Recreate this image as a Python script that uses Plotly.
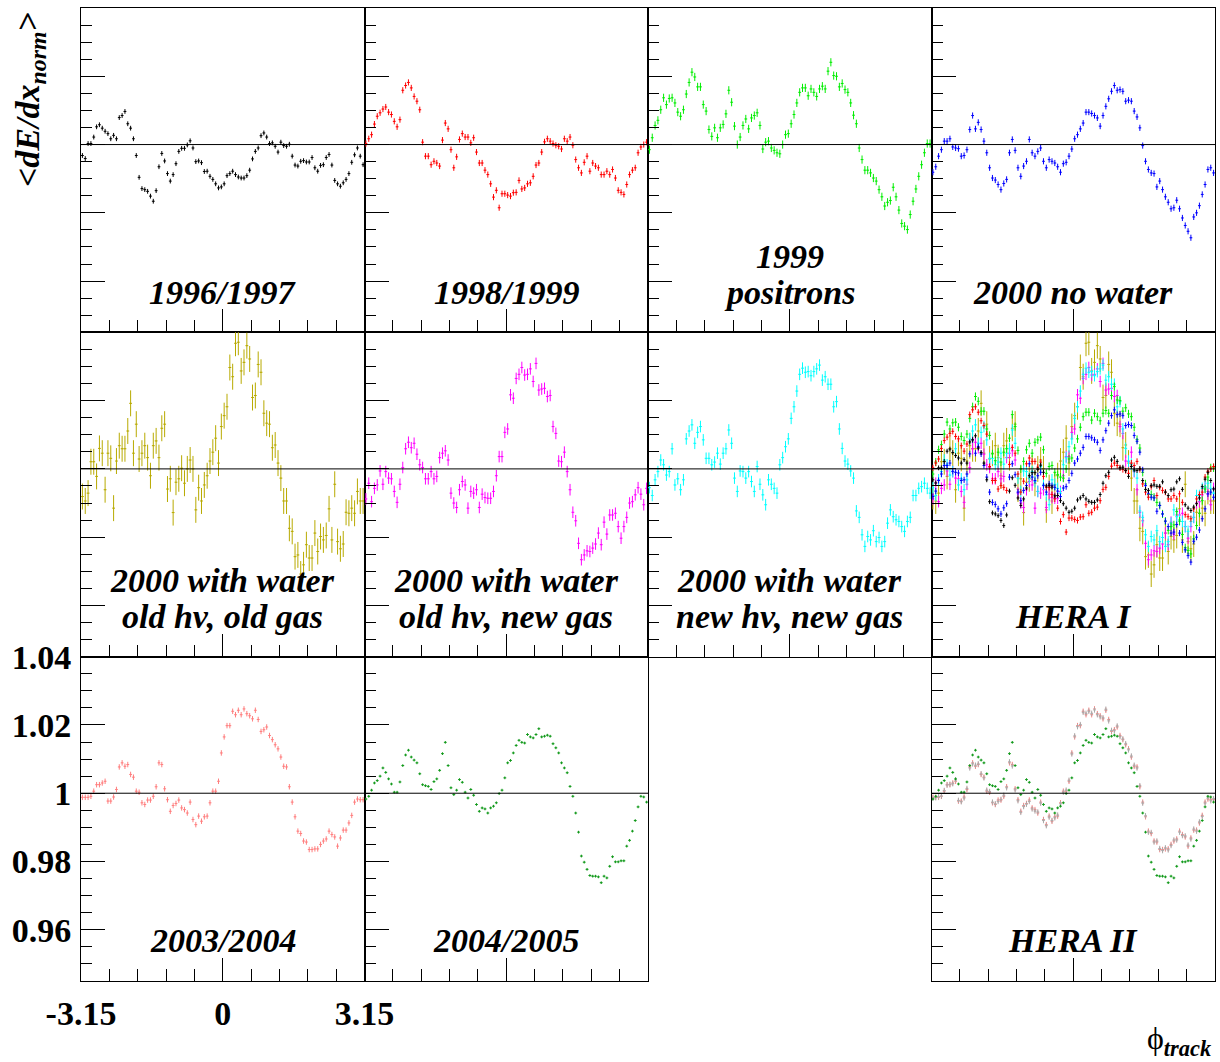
import plotly.graph_objects as go
from plotly.subplots import make_subplots

# ---------------- data (deviation from 1 in units of 1e-3, 100 phi bins) ----------------
N_BINS = 100
PHI_MIN, PHI_MAX = -3.15, 3.15
bin_w = (PHI_MAX - PHI_MIN) / N_BINS
phi = [PHI_MIN + bin_w * (i + 0.5) for i in range(N_BINS)]

dev_1996_1997 = [-3.2,-4.1,0.3,0.3,2.2,5.2,5.8,4.8,3.9,3.2,
 1.7,2.7,1.7,7.9,8.5,9.7,6.1,4.8,1.7,-3.2,
 -9.6,-12.9,-13.2,-13.7,-15.1,-16.6,-13.5,-6.5,-2.6,-4.8,
 -8.5,-10.7,-8.8,-5.6,-2.0,-1.1,-1.1,-0.1,1.1,-1.0,
 -5.0,-4.8,-5.3,-7.9,-7.8,-9.3,-10.2,-11.5,-12.7,-12.4,
 -11.5,-9.1,-8.5,-7.8,-8.8,-9.5,-9.8,-9.8,-9.1,-7.5,
 -4.2,-2.0,-1.0,2.6,3.4,2.2,0.3,0.5,-0.5,-2.2,
 0.7,-0.3,-0.5,0.1,-3.4,-6.0,-6.3,-4.9,-4.7,-5.1,
 -5.1,-3.8,-6.8,-7.8,-6.1,-5.9,-3.8,-2.9,-6.0,-10.5,
 -11.5,-12.2,-11.2,-10.2,-8.5,-5.2,-3.0,-1.0,-3.4,-5.9]

dev_1998_1999 = [0.3,1.7,2.9,6.0,8.3,9.3,10.4,11.0,9.5,8.8,
 6.8,5.2,7.3,15.9,17.3,18.2,16.6,14.1,12.7,10.2,
 0.7,-3.4,-3.4,-5.9,-4.9,-5.4,-6.3,1.3,6.3,4.6,
 -1.5,-6.8,-3.6,1.5,3.2,2.2,2.2,0.5,2.0,-2.2,
 -5.4,-5.4,-7.5,-8.8,-11.5,-15.4,-13.4,-18.5,-14.4,-14.4,
 -14.8,-15.1,-14.1,-14.0,-10.5,-13.0,-12.7,-11.5,-11.2,-9.3,
 -6.0,-5.4,-2.2,0.8,1.7,1.0,0.3,-0.2,-0.5,-1.3,
 1.7,1.0,2.2,-0.2,-4.4,-6.8,-8.3,-5.2,-3.4,-7.8,
 -5.4,-6.3,-6.8,-8.8,-8.8,-7.8,-8.8,-7.3,-9.8,-13.4,
 -14.0,-14.6,-11.7,-8.8,-7.5,-6.8,-2.4,-0.7,0.0,0.7]

dev_1999_positrons = [-1.5,2.0,5.6,7.1,10.2,13.7,11.7,13.5,13.7,12.2,
 9.5,8.3,10.2,14.8,18.2,21.2,19.8,16.9,16.9,11.7,
 9.8,4.4,2.4,4.9,2.0,4.9,5.9,9.0,15.9,12.4,
 5.4,0.0,2.2,5.6,7.5,4.6,7.8,8.5,9.3,5.6,
 -1.3,0.7,1.0,-1.0,-1.7,-2.4,-2.7,0.0,2.9,3.2,
 6.1,8.8,12.2,15.3,16.6,16.6,14.3,16.3,15.3,14.1,
 16.3,17.1,16.3,21.5,24.1,20.2,20.0,16.9,17.9,16.1,
 15.3,12.2,8.6,6.1,-1.0,-4.4,-7.5,-7.5,-8.3,-9.8,
 -10.7,-13.2,-15.3,-18.0,-16.9,-16.4,-12.5,-15.3,-19.2,-23.1,
 -23.9,-24.9,-20.5,-16.6,-13.0,-9.3,-5.9,-2.4,0.3,0.3]

dev_2000_no_water = [-8.1,-6.5,-3.4,-1.5,1.0,1.0,1.7,-0.7,-1.0,-1.2,
 -3.4,-3.2,-1.5,4.4,8.5,4.6,6.5,4.4,1.0,-2.4,
 -6.8,-9.8,-10.4,-11.7,-13.2,-11.4,-10.2,-2.4,1.5,-1.7,
 -6.8,-9.3,-6.3,-4.9,1.5,-2.4,-3.4,-2.0,-1.0,-4.9,
 -6.8,-4.4,-4.9,-5.4,-6.5,-8.1,-5.6,-5.2,-3.4,-1.3,
 1.7,2.9,4.6,6.3,9.5,9.5,9.1,8.5,7.8,5.4,
 8.5,11.2,13.4,15.6,17.3,15.9,16.1,15.6,12.7,13.0,
 12.7,9.8,8.1,4.9,-0.3,-4.9,-7.3,-8.3,-8.5,-12.4,
 -10.7,-13.2,-15.3,-16.9,-18.8,-18.5,-16.3,-18.8,-21.5,-23.7,
 -25.4,-27.3,-21.2,-20.0,-17.9,-14.6,-11.7,-7.3,-6.8,-8.3]

dev_2000_old_hv_old_gas = [-8.1,-9.4,-7.1,2.1,2.1,-2.2,6.0,4.6,-6.1,4.6,
 3.1,-11.5,2.3,6.8,5.9,5.9,11.1,19.2,4.6,13.1,
 2.9,4.6,6.8,3.3,-2.0,6.8,8.2,3.3,11.9,13.1,
 -5.9,-2.9,-12.8,-3.9,-2.9,0.2,-4.2,0.0,2.6,0.0,
 -12.0,-5.5,-9.4,-4.7,-2.0,2.3,4.9,9.0,1.7,12.4,
 15.6,18.2,29.7,27.0,36.8,37.1,28.7,31.2,36.1,32.2,
 20.9,21.5,30.6,28.3,16.3,13.4,13.1,6.2,7.0,1.7,
 -2.7,-9.4,-9.4,-17.4,-18.3,-25.7,-25.2,-30.8,-28.1,-22.2,
 -26.1,-26.1,-18.8,-24.2,-19.8,-20.8,-19.5,-11.7,-20.8,-4.5,
 -21.3,-23.4,-22.0,-12.7,-13.0,-11.5,-13.0,-6.6,-9.4,-9.4]

dev_2000_old_hv_new_gas = [-8.8,-4.2,-9.6,-5.7,-4.7,-0.6,-4.5,-0.8,-2.7,-2.9,
 -6.6,-9.8,-4.5,0.4,5.9,7.8,6.2,7.5,4.3,1.2,
 0.4,-2.9,-2.9,-0.8,-2.9,-2.2,3.3,4.6,5.3,2.6,
 -7.1,-10.0,-11.3,-6.1,-3.7,-4.7,-11.5,-6.6,-7.1,-6.1,
 -11.3,-7.4,-8.4,-8.6,-8.6,-6.6,-2.0,3.6,3.6,10.7,
 11.7,21.7,20.7,26.5,27.7,29.7,27.5,27.7,29.3,25.6,
 30.9,23.1,23.4,23.6,21.2,21.5,12.4,10.4,2.3,2.1,
 4.9,-0.8,-6.1,-12.7,-15.2,-21.8,-26.6,-25.2,-24.0,-24.2,
 -23.2,-22.0,-18.8,-22.2,-15.6,-19.1,-13.5,-13.5,-13.0,-16.9,
 -20.3,-16.9,-14.2,-10.0,-9.6,-7.6,-5.5,-7.4,-10.5,-5.7]

dev_2000_new_hv_new_gas = [-5.5,-7.8,-3.2,-0.8,2.6,1.2,-1.8,-0.8,5.9,-4.7,
 -2.9,-6.1,-3.2,8.8,11.1,12.9,7.5,10.7,12.4,8.5,
 3.1,3.1,1.2,2.0,4.6,1.4,4.6,5.9,11.4,7.5,
 -2.7,-6.6,-0.6,-0.8,-2.7,-0.8,-3.7,-6.6,0.7,-4.5,
 -7.6,-10.5,-3.2,-4.5,-5.7,-7.1,1.2,3.3,6.5,8.8,
 14.8,18.2,22.8,27.7,29.5,28.3,28.5,27.3,28.5,29.3,
 30.4,26.0,27.0,24.8,24.8,18.2,19.7,11.7,6.0,2.3,
 1.4,-0.6,-2.7,-12.3,-14.2,-19.3,-22.7,-19.8,-20.8,-18.1,
 -21.3,-20.1,-22.7,-21.3,-15.9,-12.0,-14.0,-14.9,-15.4,-16.9,
 -18.3,-15.4,-14.2,-7.8,-7.8,-5.7,-5.2,-4.2,-5.7,-7.1]

dev_2003_2004 = [-1.2,-1.2,-1.2,-0.9,0.6,2.5,2.5,3.0,3.5,-2.3,
 -2.3,-1.1,1.1,7.7,8.9,7.9,8.4,5.5,4.7,0.6,
 0.3,-2.8,-3.3,-2.0,-2.0,-0.9,1.9,8.9,8.4,1.3,
 -1.9,-5.3,-3.6,-3.0,-2.0,-4.3,-4.8,-5.8,-2.6,-7.7,
 -9.2,-6.7,-8.2,-6.9,-6.7,-2.8,0.6,0.6,3.5,11.8,
 16.5,19.8,19.8,24.0,23.0,24.3,23.0,24.7,23.3,22.7,
 21.8,24.3,21.6,18.1,18.6,19.4,16.9,15.7,14.2,13.0,
 10.6,7.9,7.7,1.9,-2.6,-6.9,-11.1,-11.8,-14.0,-14.3,
 -16.5,-16.5,-16.3,-16.3,-15.0,-14.0,-13.4,-11.1,-12.1,-12.8,
 -15.5,-13.1,-10.8,-10.8,-8.7,-6.5,-2.6,-1.7,-1.9,-1.9]

dev_2004_2005 = [-1.7,-0.9,0.9,3.0,3.7,5.0,7.4,6.1,4.2,2.7,
 0.3,0.3,3.3,8.1,11.2,12.6,10.6,9.7,8.9,5.7,
 2.5,2.2,2.0,1.1,3.4,4.2,6.7,11.6,14.9,8.1,
 1.6,-0.4,0.9,4.0,3.2,0.3,-1.4,1.1,-0.6,-3.3,
 -5.3,-4.3,-4.6,-5.8,-4.3,-3.8,-2.8,-0.1,0.9,4.5,
 8.9,9.6,11.8,14.0,15.5,14.9,14.7,17.2,16.5,16.2,
 17.2,18.9,16.5,16.7,17.0,16.7,14.5,13.3,11.8,8.9,
 7.4,6.0,2.0,-0.9,-5.8,-11.4,-18.4,-20.2,-22.3,-24.1,
 -24.3,-24.3,-24.5,-26.2,-24.3,-24.8,-21.4,-18.6,-20.1,-20.1,
 -19.8,-19.8,-15.5,-13.8,-11.1,-8.0,-4.0,-0.9,-1.1,-2.6]

dev_hera2_grey = [-1.4,-1.3,-1.0,-0.8,0.8,2.4,2.6,2.8,3.9,-2.1,
 -2.5,-1.4,1.4,7.4,8.6,8.2,8.6,5.7,4.5,0.9,
 0.5,-2.6,-3.1,-2.4,-1.8,-0.6,1.6,9.2,8.0,1.0,
 -2.2,-5.6,-3.9,-3.2,-2.4,-4.6,-5.2,-5.5,-2.9,-8.0,
 -9.5,-7.0,-8.0,-7.2,-6.4,-3.1,0.3,0.9,3.8,11.5,
 16.8,19.5,20.1,23.7,23.4,24.0,23.4,24.4,23.0,22.4,
 22.1,24.6,21.2,18.4,18.3,19.7,16.6,15.9,14.5,12.7,
 10.9,8.2,7.4,2.2,-2.9,-6.6,-11.4,-11.5,-14.3,-14.0,
 -16.2,-16.8,-16.0,-16.6,-15.3,-13.7,-13.7,-11.4,-12.4,-12.5,
 -15.2,-13.4,-10.5,-11.1,-8.4,-6.8,-2.9,-1.4,-2.2,-1.6]

# typical vertical error (absolute) per dataset
err_1996_1997 = 0.0007
err_1998_1999 = 0.0009
err_1999_positrons = 0.0012
err_2000_no_water = 0.0009
err_2000_old_hv_old_gas = 0.0038
err_2000_old_hv_new_gas = 0.0017
err_2000_new_hv_new_gas = 0.0017
err_2003_2004 = 0.0008
err_2004_2005 = 0.0004
err_hera2_grey = 0.0008

panel_labels = [["1996/1997"], ["1998/1999"], ["1999", "positrons"], ["2000 no water"],
                ["2000 with water", "old hv, old gas"], ["2000 with water", "old hv, new gas"],
                ["2000 with water", "new hv, new gas"], ["HERA I"],
                ["2003/2004"], ["2004/2005"], [], ["HERA II"]]

y_tick_vals = [0.96, 0.98, 1.0, 1.02, 1.04]
y_tick_text = ["0.96", "0.98", "1", "1.02", "1.04"]
x_tick_vals = [-3.15, 0, 3.15]
x_tick_text = ["-3.15", "0", "3.15"]

# ---------------- series definitions ----------------
S = {
    "9697": (dev_1996_1997, err_1996_1997, "#000000"),
    "9899": (dev_1998_1999, err_1998_1999, "#ff0000"),
    "99p": (dev_1999_positrons, err_1999_positrons, "#00ee00"),
    "00nw": (dev_2000_no_water, err_2000_no_water, "#0000ff"),
    "00oo": (dev_2000_old_hv_old_gas, err_2000_old_hv_old_gas, "#b8aa00"),
    "00on": (dev_2000_old_hv_new_gas, err_2000_old_hv_new_gas, "#ff00ff"),
    "00nn": (dev_2000_new_hv_new_gas, err_2000_new_hv_new_gas, "#00ffff"),
    "0304": (dev_2003_2004, err_2003_2004, "#ff7f7f"),
    "0405": (dev_2004_2005, err_2004_2005, "#11991a"),
    "grey": (dev_hera2_grey, err_hera2_grey, "#aaaaaa"),
}
panels = {
    1: ["9697"], 2: ["9899"], 3: ["99p"], 4: ["00nw"],
    5: ["00oo"], 6: ["00on"], 7: ["00nn"],
    8: ["00oo", "00on", "00nn", "99p", "00nw", "9899", "9697"],
    9: ["0304"], 10: ["0405"], 11: [],
    12: ["0304", "grey", "0405"],
}

fig = make_subplots(rows=3, cols=4, horizontal_spacing=0, vertical_spacing=0)

for p in range(1, 13):
    r = (p - 1) // 4 + 1
    c = (p - 1) % 4 + 1
    for key in panels[p]:
        dev, err, col = S[key]
        yv = [1 + d / 1000.0 for d in dev]
        fig.add_trace(go.Scatter(
            x=phi, y=yv, mode="markers",
            marker=dict(size=1, color=col),
            error_y=dict(type="constant", value=err, width=0, thickness=1, color=col),
            error_x=dict(type="constant", value=bin_w / 2, width=0, thickness=1, color=col),
            showlegend=False, hoverinfo="skip",
        ), row=r, col=c)

FONT = "Liberation Serif"
shapes = []
annotations = []
for p in range(1, 13):
    sfx = "" if p == 1 else str(p)
    xa = "xaxis" + sfx
    ya = "yaxis" + sfx
    if p == 11:
        fig.layout[xa].update(visible=False, range=[PHI_MIN, PHI_MAX], automargin=False)
        fig.layout[ya].update(visible=False, range=[0.945, 1.04], automargin=False)
        continue
    fig.layout[xa].update(
        range=[PHI_MIN, PHI_MAX], showgrid=False, zeroline=False, automargin=False,
        showline=True, mirror=True, linecolor="black", linewidth=1,
        ticks="inside", tickvals=x_tick_vals, ticktext=x_tick_text,
        ticklen=23, tickwidth=1, tickcolor="black",
        showticklabels=(p == 9), ticklabelstandoff=2,
        tickfont=dict(family=FONT, size=34, color="black", weight="bold"),
        minor=dict(ticks="inside", ticklen=12, tickwidth=1, tickcolor="black",
                   tick0=PHI_MIN, dtick=0.63, showgrid=False),
    )
    fig.layout[ya].update(
        range=[0.945, 1.04], showgrid=False, zeroline=False, automargin=False,
        showline=True, mirror=True, linecolor="black", linewidth=1,
        ticks="inside", tickvals=y_tick_vals, ticktext=y_tick_text,
        ticklen=24, tickwidth=1, tickcolor="black",
        showticklabels=(p == 9), ticklabelstandoff=2,
        tickfont=dict(family=FONT, size=34, color="black", weight="bold"),
        minor=dict(ticks="inside", ticklen=11, tickwidth=1, tickcolor="black",
                   tick0=0.96, dtick=0.005, showgrid=False),
    )
    shapes.append(dict(type="line", xref="x" + sfx + " domain", yref="y" + sfx,
                       x0=0, x1=1, y0=1, y1=1, line=dict(color="black", width=1),
                       layer="above"))
    lines = panel_labels[p - 1]
    ys = [0.124] if len(lines) == 1 else [0.234, 0.123]
    for txt, yy in zip(lines, ys):
        annotations.append(dict(
            text=txt, xref="x" + sfx + " domain", yref="y" + sfx + " domain",
            x=0.5, y=yy, xanchor="center", yanchor="middle", showarrow=False,
            font=dict(family=FONT, size=34, color="black", weight="bold", style="italic"),
        ))

L, R, T, B = 81, 5, 8, 81
W, H = 1220, 1062
pw, ph = W - L - R, H - T - B

def px(xp):
    return (xp - L) / pw

def py(yp):
    return (H - B - yp) / ph

annotations.append(dict(
    text="&lt;dE/dx<sub>norm</sub>&gt;", xref="paper", yref="paper",
    x=px(30), y=py(100), xanchor="center", yanchor="middle", textangle=-90,
    showarrow=False,
    font=dict(family=FONT, size=34, color="black", weight="bold", style="italic"),
))
annotations.append(dict(
    text="ϕ<sub><b><i>track</i></b></sub>", xref="paper", yref="paper",
    x=px(1214), y=py(1040), xanchor="right", yanchor="middle", showarrow=False,
    font=dict(family=FONT, size=32, color="black"),
))

fig.update_layout(
    width=W, height=H, margin=dict(l=L, r=R, t=T, b=B, autoexpand=False),
    paper_bgcolor="white", plot_bgcolor="white",
    shapes=shapes, annotations=annotations, showlegend=False,
)

fig.write_html("out.html")
